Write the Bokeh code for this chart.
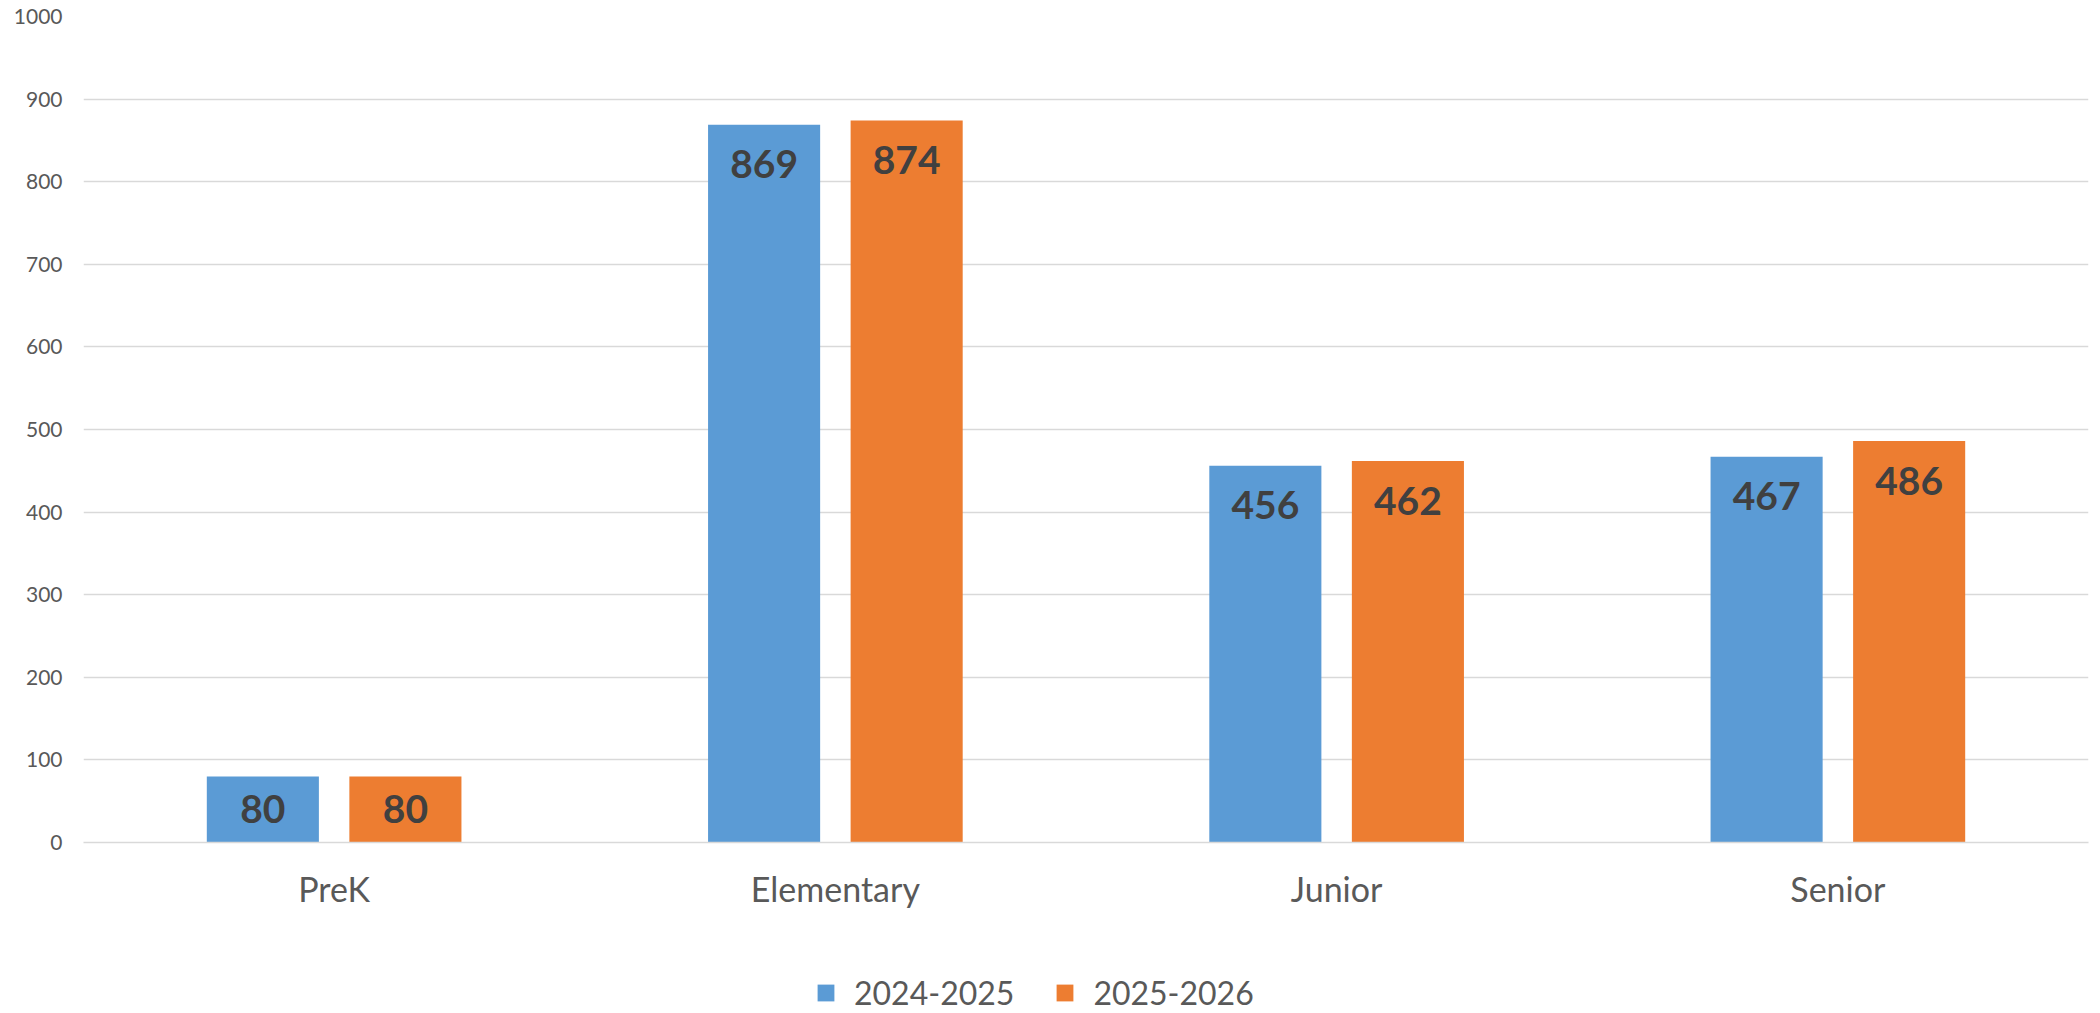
from bokeh.plotting import figure
from bokeh.models import ColumnDataSource, Legend, LegendItem, FactorRange, SingleIntervalTicker
from bokeh.layouts import column
from bokeh.transform import dodge
from bokeh.core.properties import value
from bokeh.embed import file_html
from bokeh.resources import INLINE

categories = ["PreK", "Elementary", "Junior", "Senior"]
series_names = ["2024-2025", "2025-2026"]
values_2024 = [80, 869, 456, 467]
values_2025 = [80, 874, 462, 486]

BLUE = "#5B9BD5"
ORANGE = "#ED7D31"
FONT = "Lato"
W = 2100


def label_pos(vals):
    return [max(v - 48, v / 2) for v in vals]


src = ColumnDataSource(data=dict(
    cat=categories,
    a=values_2024,
    b=values_2025,
    a_txt=[str(v) for v in values_2024],
    b_txt=[str(v) for v in values_2025],
    a_y=label_pos(values_2024),
    b_y=label_pos(values_2025),
))

p = figure(x_range=FactorRange(*categories), y_range=(0, 1000),
           width=W, height=940, output_backend="svg", toolbar_location=None,
           min_border_left=83, min_border_right=12, min_border_top=16, min_border_bottom=98)
p.outline_line_color = None
p.background_fill_color = "white"

off = 0.1422
bw = 0.2236
p.vbar(x=dodge("cat", -off, range=p.x_range), top="a", width=bw, source=src,
       fill_color=BLUE, line_color=None)
p.vbar(x=dodge("cat", off, range=p.x_range), top="b", width=bw, source=src,
       fill_color=ORANGE, line_color=None)

for xo, tcol, ycol in [(-off, "a_txt", "a_y"), (off, "b_txt", "b_y")]:
    p.text(x=dodge("cat", xo, range=p.x_range), y=ycol, text=tcol, source=src,
           text_font=value(FONT), text_font_style="bold", text_font_size="39px",
           text_color="#404040", text_align="center", text_baseline="middle")

# axes
p.yaxis.ticker = SingleIntervalTicker(interval=100)
p.yaxis.axis_line_color = None
p.yaxis.major_tick_line_color = None
p.yaxis.minor_tick_line_color = None
p.yaxis.major_label_text_font = FONT
p.yaxis.major_label_text_font_size = "21px"
p.yaxis.major_label_text_color = "#595959"
p.yaxis.major_label_standoff = 15

p.xaxis.axis_line_color = "#D9D9D9"
p.xaxis.axis_line_width = 1.5
p.xaxis.major_tick_line_color = None
p.xaxis.minor_tick_line_color = None
p.xaxis.major_label_text_font = FONT
p.xaxis.major_label_text_font_size = "34px"
p.xaxis.major_label_text_color = "#595959"
p.xaxis.major_label_standoff = 19

p.xgrid.grid_line_color = None
p.ygrid.grid_line_color = "#D9D9D9"
p.ygrid.grid_line_width = 1.5

# legend strip (swatch renderers sit outside the visible range; only the legend shows them)
lg = figure(width=W, height=73, x_range=(0, 1), y_range=(0, 1),
            output_backend="svg", toolbar_location=None,
            x_axis_location=None, y_axis_location=None,
            min_border_left=0, min_border_right=0, min_border_top=0, min_border_bottom=0)
lg.outline_line_color = None
lg.xgrid.visible = False
lg.ygrid.visible = False
swatch = ColumnDataSource(data=dict(x=[-10], top=[-10]))
l1 = lg.vbar(x="x", top="top", width=0.1, source=swatch, fill_color=BLUE, line_color=None)
l2 = lg.vbar(x="x", top="top", width=0.1, source=swatch, fill_color=ORANGE, line_color=None)

legend = Legend(items=[LegendItem(label=series_names[0], renderers=[l1], index=0),
                       LegendItem(label=series_names[1], renderers=[l2], index=0)],
                orientation="horizontal", location=(732, 1),
                glyph_width=21, glyph_height=21, label_standoff=18, spacing=40,
                label_text_font=FONT, label_text_font_size="32px",
                label_text_color="#595959", background_fill_alpha=0,
                border_line_color=None, padding=0, margin=0)
lg.add_layout(legend, "center")

layout = column(p, lg, spacing=0)
open("out.html", "w").write(file_html(layout, INLINE))
